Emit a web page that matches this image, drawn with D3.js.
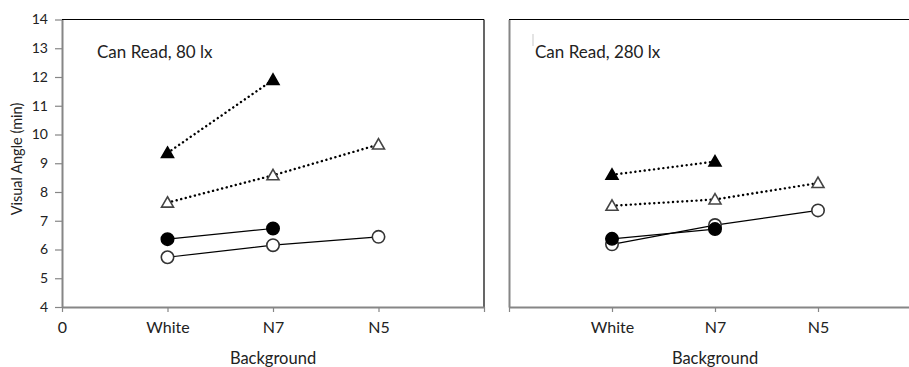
<!DOCTYPE html>
<html><head><meta charset="utf-8">
<script src="https://cdn.jsdelivr.net/npm/d3@7"></script>
<style>body{margin:0;background:#fff}svg{display:block}text{font-family:Lato,"Open Sans",sans-serif;fill:#222}</style>
</head><body><svg id="c" width="909" height="367"></svg>
<script>
const categories = ["White","N7","N5"];
const yTicks = [4,5,6,7,8,9,10,11,12,13,14];
const panelTitles = ["Can Read, 80 lx","Can Read, 280 lx"];
// 80 lx
const p1FilledTri = [9.36, 11.9];
const p1OpenTri = [7.63, 8.58, 9.65];
const p1FilledCirc = [6.36, 6.73];
const p1OpenCirc = [5.73, 6.15, 6.44];
// 280 lx
const p2FilledTri = [8.6, 9.06];
const p2OpenTri = [7.52, 7.74, 8.31];
const p2FilledCirc = [6.37, 6.71];
const p2OpenCirc = [6.18, 6.85, 7.36];

const svg = d3.select("#c");
const plotTop = 19.5, plotBottom = 307;
const y = d3.scaleLinear().domain([4,14]).range([plotBottom, plotTop]);
const grey = "#868686";

function panel(x0, x1, title, titleX, titleY, data, showY, showZero, cursor){
  const x = d3.scaleLinear().domain([0,4]).range([x0, x1]);
  const g = svg.append("g");
  g.append("line").attr("x1",x0).attr("x2",x1).attr("y1",plotTop).attr("y2",plotTop).attr("stroke","#000").attr("stroke-width",1.2);
  g.append("line").attr("x1",x1).attr("x2",x1).attr("y1",plotTop).attr("y2",plotBottom).attr("stroke","#000").attr("stroke-width",1.2);
  const ya = g.append("g").attr("transform",`translate(${x0},0)`)
    .call(d3.axisLeft(y).tickValues(yTicks).tickSize(showY?7:0).tickSizeOuter(0).tickFormat(showY?d3.format("d"):()=>""));
  ya.select(".domain").attr("stroke",grey).attr("stroke-width",2);
  ya.selectAll(".tick line").attr("stroke",grey).attr("stroke-width",1.2);
  ya.selectAll(".tick text").attr("font-size",14).attr("fill","#222").attr("x",-14).style("font-family","Lato,sans-serif");
  const xa = g.append("g").attr("transform",`translate(0,${plotBottom})`)
    .call(d3.axisBottom(x).tickValues([0,1,2,3,4]).tickSize(5).tickSizeOuter(0)
      .tickFormat(d => d===0 ? (showZero?"0":"") : (categories[d-1]||"")));
  xa.select(".domain").attr("stroke",grey).attr("stroke-width",2);
  xa.selectAll(".tick line").attr("stroke",grey).attr("stroke-width",1.2);
  xa.selectAll(".tick text").attr("font-size",16).attr("fill","#222").attr("y",15).style("font-family","Lato,sans-serif");
  g.append("text").attr("x",x(2)).attr("y",364).attr("text-anchor","middle").attr("font-size",16.5).text("Background");
  g.append("text").attr("x",titleX).attr("y",titleY).attr("font-size",17).text(title);
  if(cursor) g.append("line").attr("x1",cursor[0]).attr("x2",cursor[0]).attr("y1",cursor[1]).attr("y2",cursor[2]).attr("stroke","#bbb").attr("stroke-width",0.8);

  const line = d3.line().x((d,i)=>x(i+1)).y(d=>y(d));
  const tri = d3.symbol().type(d3.symbolTriangle).size(62);
  function series(vals, dashed, shape, filled){
    g.append("path").datum(vals).attr("d",line).attr("fill","none").attr("stroke","#000")
      .attr("stroke-width", dashed?2.4:1.2).attr("stroke-dasharray", dashed?"0.1 4.6":null).attr("stroke-linecap", dashed?"round":"butt");
    const m = g.selectAll(null).data(vals).enter();
    if(shape==="circle"){
      m.append("circle").attr("cx",(d,i)=>x(i+1)).attr("cy",d=>y(d)).attr("r",6.2)
        .attr("fill",filled?"#000":"#fff").attr("stroke",filled?"#000":"#333").attr("stroke-width",1.6);
    } else {
      m.append("path").attr("d",tri).attr("transform",(d,i)=>`translate(${x(i+1)},${y(d)+1})`)
        .attr("fill",filled?"#000":"#fff").attr("stroke",filled?"#000":"#444").attr("stroke-width",1.6);
    }
  }
  series(data[1], true, "tri", false);
  series(data[0], true, "tri", true);
  series(data[3], false, "circle", false);
  series(data[2], false, "circle", true);
}

panel(62, 484, panelTitles[0], 97, 58, [p1FilledTri,p1OpenTri,p1FilledCirc,p1OpenCirc], true, true, null);
panel(509, 921, panelTitles[1], 535, 58, [p2FilledTri,p2OpenTri,p2FilledCirc,p2OpenCirc], false, false, [533,34,46]);

svg.append("text").attr("transform","translate(22,159) rotate(-90)").attr("text-anchor","middle").attr("font-size",14.5).text("Visual Angle (min)");
</script></body></html>
